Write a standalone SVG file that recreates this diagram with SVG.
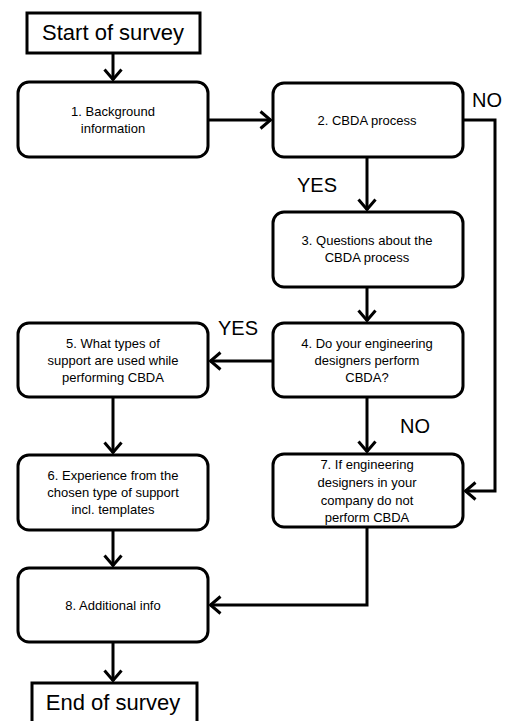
<svg xmlns="http://www.w3.org/2000/svg" width="509" height="721" viewBox="0 0 509 721">
<defs>
<style>
.box{fill:#fff;stroke:#000;stroke-width:3}
.t{font-family:"Liberation Sans",Arial,sans-serif;font-size:13px;fill:#000;text-anchor:middle}
.big{font-family:"Liberation Sans",Arial,sans-serif;font-size:22px;fill:#000;text-anchor:middle}
.lbl{font-family:"Liberation Sans",Arial,sans-serif;font-size:20px;fill:#000}
.c{fill:none;stroke:#000;stroke-width:3}
</style>
<marker id="ah" markerUnits="userSpaceOnUse" viewBox="0 0 14 20" refX="12" refY="10" markerWidth="14" markerHeight="20" orient="auto">
<path d="M1.5,1.5 L11.5,10 L1.5,18.5" fill="none" stroke="#000" stroke-width="3"/>
</marker>
</defs>
<rect width="509" height="721" fill="#fff"/>
<g id="connectors">
<path class="c" d="M113,53 V80" marker-end="url(#ah)"/>
<path class="c" d="M208,120 H271" marker-end="url(#ah)"/>
<path class="c" d="M463,120 H495 V491 H465" marker-end="url(#ah)"/>
<path class="c" d="M367,157 V210" marker-end="url(#ah)"/>
<path class="c" d="M367,287 V321" marker-end="url(#ah)"/>
<path class="c" d="M273,361 H210" marker-end="url(#ah)"/>
<path class="c" d="M113,397 V453" marker-end="url(#ah)"/>
<path class="c" d="M367,397 V452" marker-end="url(#ah)"/>
<path class="c" d="M113,530 V566" marker-end="url(#ah)"/>
<path class="c" d="M367,527 V605 H210" marker-end="url(#ah)"/>
<path class="c" d="M113,642 V681" marker-end="url(#ah)"/>
<text class="lbl" x="472" y="107">NO</text>
<text class="lbl" x="297" y="192">YES</text>
<text class="lbl" x="218" y="335">YES</text>
<text class="lbl" x="400" y="433">NO</text>
</g>
<g id="start">
<rect class="box" x="27" y="13" width="173" height="40"/>
<text class="big" x="113" y="40">Start of survey</text>
</g>
<g id="n1">
<rect class="box" x="18" y="82" width="190" height="75" rx="11"/>
<text class="t" x="113" y="116">1. Background</text>
<text class="t" x="113" y="133">information</text>
</g>
<g id="n2">
<rect class="box" x="273" y="83" width="190" height="74" rx="11"/>
<text class="t" x="367" y="125">2. CBDA process</text>
</g>
<g id="n3">
<rect class="box" x="273" y="212" width="190" height="75" rx="11"/>
<text class="t" x="367" y="245">3. Questions about the</text>
<text class="t" x="367" y="262">CBDA process</text>
</g>
<g id="n4">
<rect class="box" x="273" y="323" width="190" height="74" rx="11"/>
<text class="t" x="367" y="348">4. Do your engineering</text>
<text class="t" x="367" y="365">designers perform</text>
<text class="t" x="367" y="382">CBDA?</text>
</g>
<g id="n5">
<rect class="box" x="18" y="323" width="190" height="74" rx="11"/>
<text class="t" x="113" y="348">5. What types of</text>
<text class="t" x="113" y="365">support are used while</text>
<text class="t" x="113" y="382">performing CBDA</text>
</g>
<g id="n6">
<rect class="box" x="18" y="455" width="190" height="75" rx="11"/>
<text class="t" x="113" y="480">6. Experience from the</text>
<text class="t" x="113" y="497">chosen type of support</text>
<text class="t" x="113" y="514">incl. templates</text>
</g>
<g id="n7">
<rect class="box" x="273" y="454" width="190" height="73" rx="11"/>
<text class="t" x="367" y="469">7. If engineering</text>
<text class="t" x="367" y="487">designers in your</text>
<text class="t" x="367" y="505">company do not</text>
<text class="t" x="367" y="522">perform CBDA</text>
</g>
<g id="n8">
<rect class="box" x="18" y="568" width="190" height="74" rx="11"/>
<text class="t" x="113" y="610">8. Additional info</text>
</g>
<g id="end">
<rect class="box" x="32" y="683" width="165" height="45"/>
<text class="big" x="113" y="710">End of survey</text>
</g>
</svg>
